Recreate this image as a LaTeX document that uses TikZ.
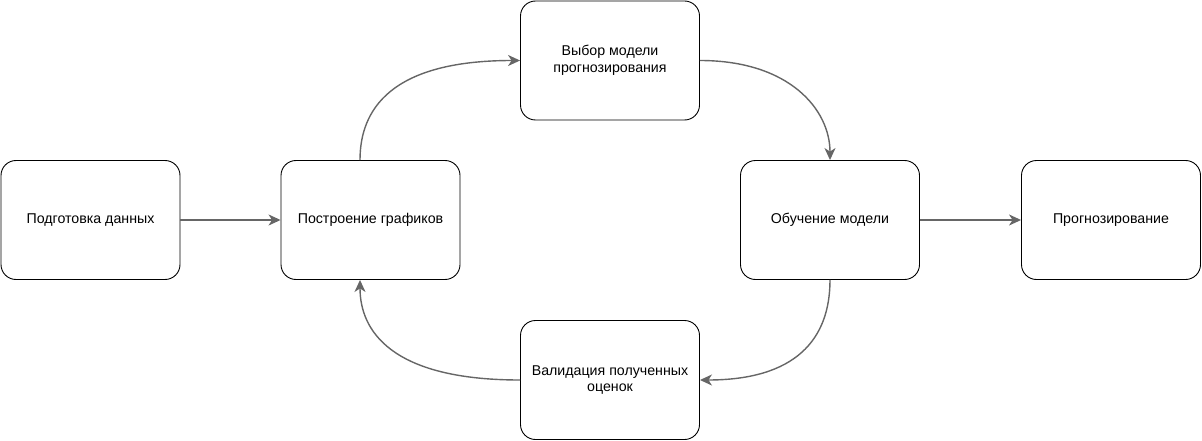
\documentclass[tikz,border=0pt]{standalone}
\usepackage{fontspec}
\setmainfont{Liberation Sans}
\usetikzlibrary{arrows.meta}
\definecolor{edgegray}{HTML}{666666}
\begin{document}
\begin{tikzpicture}[x=1pt,y=-1pt,
  box/.style={draw=black,line width=0.9pt,rounded corners=15pt,minimum width=179pt,minimum height=119pt,
    align=center,inner sep=0pt,font=\fontsize{14.2}{16.5}\selectfont,fill=white},
  flow/.style={draw=edgegray,line width=1.4pt,-{Stealth[length=12pt,width=11pt,inset=3.5pt]}}]
\useasboundingbox (0,0) rectangle (1202,441);
\node[box] (A) at (90.5,220) {Подготовка данных};
\node[box] (B) at (370.5,220) {Построение графиков};
\node[box] (C) at (610,60.5) {Выбор модели\\прогнозирования};
\node[box] (D) at (830,220) {Обучение модели};
\node[box] (E) at (1111,220) {Прогнозирование};
\node[box] (F) at (610,380) {Валидация полученных\\оценок};
\draw[flow] (A.east) -- (B.west);
\draw[flow] (D.east) -- (E.west);
\draw[flow] ([xshift=-10.5pt]B.north) .. controls ([xshift=-10.5pt,yshift=50pt]B.north) and ([xshift=-130pt]C.west) .. (C.west);
\draw[flow] (C.east) .. controls ([xshift=90pt]C.east) and ([yshift=50pt]D.north) .. (D.north);
\draw[flow] (D.south) .. controls ([yshift=-60pt]D.south) and ([xshift=95pt]F.east) .. (F.east);
\draw[flow] (F.west) .. controls ([xshift=-130pt]F.west) and ([xshift=-10.5pt,yshift=-50pt]B.south) .. ([xshift=-10.5pt]B.south);
\end{tikzpicture}
\end{document}
